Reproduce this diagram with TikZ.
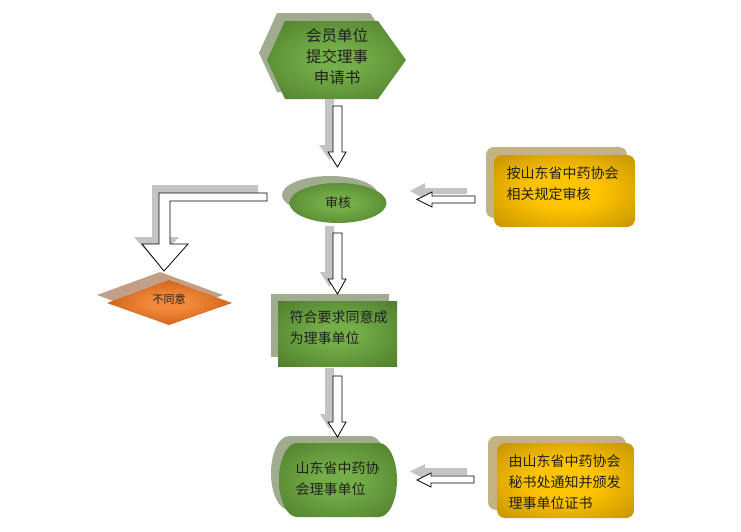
\documentclass[tikz,border=0pt]{standalone}
\usepackage{fontspec}
\newfontfamily\cjk{Noto Sans CJK SC}
\usetikzlibrary{shapes.geometric,calc}
\definecolor{gEdge}{HTML}{4E7D2C}
\definecolor{gIn}{HTML}{74AE48}
\definecolor{gShadow}{HTML}{A0AB90}
\definecolor{yEdge}{HTML}{BF8F00}
\definecolor{yIn}{HTML}{FFC400}
\definecolor{yShadow}{HTML}{C2B284}
\definecolor{oEdge}{HTML}{C85A12}
\definecolor{oIn}{HTML}{F08A3A}
\definecolor{oShadow}{HTML}{C29F86}
\definecolor{arrShadow}{HTML}{C4C4C4}
\definecolor{txt}{HTML}{202020}
\pgfdeclareradialshading{greensh}{\pgfpoint{0bp}{0bp}}{color(0bp)=(gIn); color(8bp)=(gIn); color(36bp)=(gEdge); color(50bp)=(gEdge)}
\pgfdeclareradialshading{goldsh}{\pgfpoint{0bp}{0bp}}{color(0bp)=(yIn); color(12bp)=(yIn); color(38bp)=(yEdge); color(50bp)=(yEdge)}
\pgfdeclareradialshading{orangesh}{\pgfpoint{0bp}{0bp}}{color(0bp)=(oIn); color(8bp)=(oIn); color(30bp)=(oEdge); color(50bp)=(oEdge)}
\tikzset{
  greenfill/.style={shading=greensh},
  goldfill/.style={shading=goldsh},
  orangefill/.style={shading=orangesh},
  lbl/.style={font=\cjk\fontsize{14}{21}\selectfont, text=txt, align=left},
  blockarrow/.style={draw=black, fill=white, line width=0.8pt, line join=miter},
  arrowshadow/.style={fill=arrShadow, draw=none},
}
\begin{document}
\begin{tikzpicture}[x=1pt,y=-1pt]
\useasboundingbox (0,0) rectangle (741,531);
\fill[white] (0,0) rectangle (741,531);

% ---------- hexagon ----------
\fill[gShadow] (259,53) -- (277,13) -- (370,13) -- (398,53) -- (370,92) -- (277,92) -- cycle;
\shade[greenfill] (267,60) -- (285,21) -- (378,21) -- (406,60) -- (378,99) -- (285,99) -- cycle;
\node[lbl, align=center, font=\cjk\fontsize{15.5}{21}\selectfont] (hex) at (337,57) {会员单位\\提交理事\\申请书};

% ---------- ellipse ----------
\fill[gShadow] (330,195) ellipse [x radius=48, y radius=19];
\shade[greenfill] (338,203) ellipse [x radius=48.5, y radius=20];
\node[lbl, font=\cjk\fontsize{13}{16}\selectfont] (audit) at (338,203) {审核};

% ---------- diamond ----------
\fill[oShadow] (97,295) -- (160,272) -- (223,295) -- (160,318) -- cycle;
\shade[orangefill] (107,303) -- (169,280) -- (232,303) -- (169,325) -- cycle;
\node[lbl, font=\cjk\fontsize{11}{14}\selectfont] (no) at (169,299) {不同意};

% ---------- rectangle ----------
\fill[gShadow] (271,294) rectangle (389,357);
\shade[greenfill] (278,301) rectangle (397,366);
\node[lbl, anchor=west] (ok) at (286,327.5) {符合要求同意成\\为理事单位};

% ---------- rounded member node ----------
\fill[gShadow] (289,436) -- (370,436) arc[start angle=-90, end angle=90, x radius=18, y radius=37] -- (289,510) arc[start angle=90, end angle=270, x radius=18, y radius=37] -- cycle;
\shade[greenfill] (297,443) -- (379,443) arc[start angle=-90, end angle=90, x radius=18, y radius=37] -- (297,517) arc[start angle=90, end angle=270, x radius=18, y radius=37] -- cycle;
\node[lbl, anchor=west] (member) at (292,479) {山东省中药协\\会理事单位};

% ---------- gold box 1 ----------
\fill[yShadow, rounded corners=8pt] (486,147) rectangle (627,218);
\shade[goldfill, rounded corners=8pt] (494,155) rectangle (635,227);
\node[lbl, anchor=west] (rule) at (503,183.5) {按山东省中药协会\\相关规定审核};

% ---------- gold box 2 ----------
\fill[yShadow, rounded corners=8pt] (488,436) rectangle (626,510);
\shade[goldfill, rounded corners=8pt] (497,443) rectangle (634,518);
\node[lbl, anchor=west] (notice) at (505,482.5) {由山东省中药协会\\秘书处通知并颁发\\理事单位证书};

% ---------- vertical block arrows ----------
% arrow 1: hexagon -> audit
\fill[arrowshadow] (325,99) -- (334,99) -- (334,145) -- (338,145) -- (329.5,160) -- (319,145) -- (325,145) -- cycle;
\draw[blockarrow] (333,106) -- (342,106) -- (342,152) -- (346,152) -- (337.5,167) -- (328,152) -- (333,152) -- cycle;
% arrow 2: audit -> ok
\fill[arrowshadow] (325,226) -- (334,226) -- (334,272) -- (338,272) -- (329.5,287) -- (320,272) -- (325,272) -- cycle;
\draw[blockarrow] (333,233) -- (342,233) -- (342,279) -- (346,279) -- (337.5,294) -- (328,279) -- (333,279) -- cycle;
% arrow 3: ok -> member
\fill[arrowshadow] (325,368) -- (334,368) -- (334,414) -- (338,414) -- (329.5,429) -- (320,414) -- (325,414) -- cycle;
\draw[blockarrow] (333,376) -- (342,376) -- (342,422) -- (346,422) -- (337.5,437) -- (328,422) -- (333,422) -- cycle;

% ---------- horizontal block arrows (pointing left) ----------
\fill[arrowshadow] (467,188) -- (467,194) -- (425,194) -- (425,199) -- (410,191) -- (425,183) -- (425,188) -- cycle;
\draw[blockarrow] (475,196) -- (475,203) -- (432,203) -- (432,207) -- (417,199.5) -- (432,192) -- (432,196) -- cycle;
\fill[arrowshadow] (467,468) -- (467,475) -- (425,475) -- (425,479) -- (410,471.5) -- (425,464) -- (425,468) -- cycle;
\draw[blockarrow] (474,476) -- (474,483) -- (431,483) -- (431,487) -- (417,480) -- (431,473) -- (431,476) -- cycle;

% ---------- bent arrow: audit -> not agree ----------
\fill[arrowshadow] (258,185) -- (258,193) -- (162,193) -- (162,237) -- (179,237) -- (156,262) -- (134,237) -- (152,237) -- (152,185) -- cycle;
\draw[blockarrow] (267,193) -- (267,201) -- (170,201) -- (170,244) -- (188,244) -- (164,271) -- (142,244) -- (159,244) -- (159,193) -- cycle;
\end{tikzpicture}
\end{document}
